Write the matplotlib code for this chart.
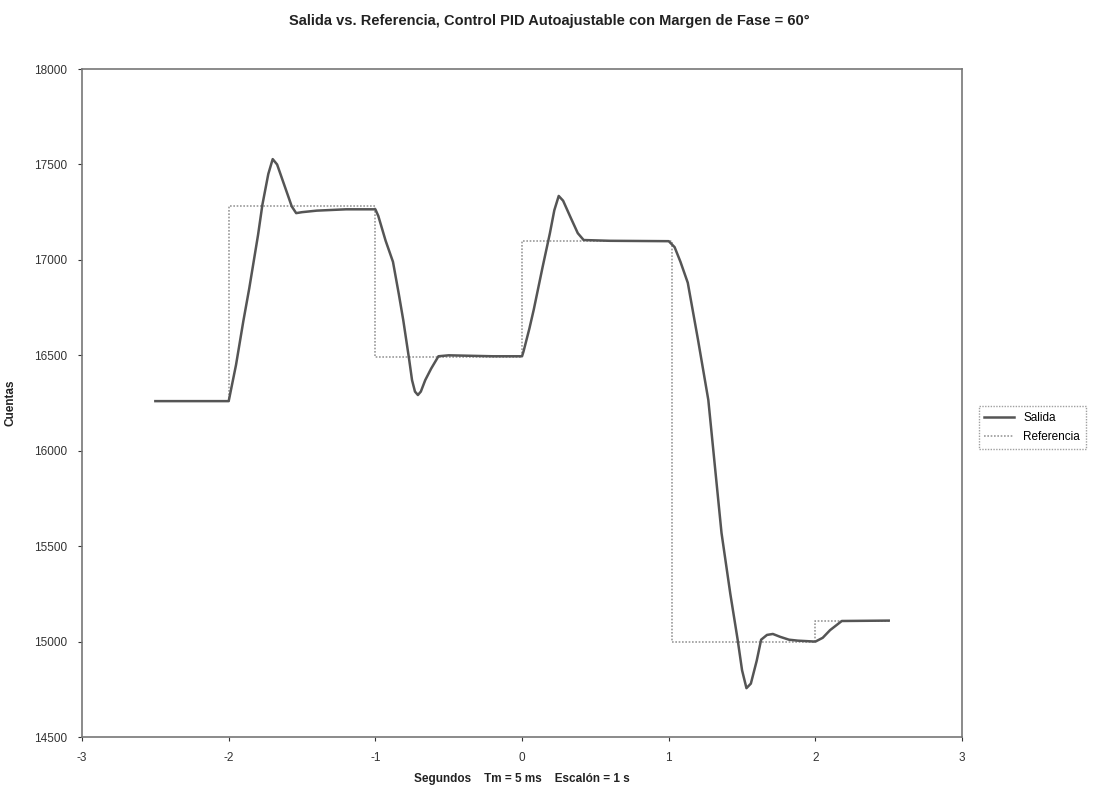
# Salida vs. Referencia - PID autoajustable, margen de fase 60 grados
import matplotlib.pyplot as plt

# Referencia (escalones)
t_ref = [-2.5, -2.0, -1.0, 0.0, 1.02, 2.0, 2.5]
ref = [16260, 17280, 16490, 17100, 15000, 15110, 15110]

# Salida
t_sal = [-2.5, -2.0, -1.95, -1.90, -1.86, -1.80, -1.77, -1.73, -1.70, -1.67,
         -1.62, -1.57, -1.54, -1.50, -1.40, -1.20, -1.00, -0.98, -0.93, -0.88,
         -0.84, -0.81, -0.77, -0.75, -0.73, -0.71, -0.69, -0.66, -0.62, -0.57,
         -0.50, -0.20, 0.00, 0.01, 0.05, 0.08, 0.14, 0.19, 0.22, 0.25,
         0.28, 0.33, 0.38, 0.42, 0.60, 1.00, 1.04, 1.08, 1.13, 1.20,
         1.27, 1.36, 1.42, 1.47, 1.50, 1.53, 1.56, 1.60, 1.63, 1.67,
         1.71, 1.76, 1.82, 1.88, 2.00, 2.05, 2.10, 2.18, 2.50]
salida = [16260, 16260, 16450, 16680, 16850, 17130, 17290, 17450, 17528, 17500,
          17390, 17280, 17245, 17250, 17258, 17265, 17265, 17230, 17100, 16990,
          16820, 16685, 16480, 16370, 16310, 16292, 16310, 16370, 16430, 16495,
          16500, 16495, 16495, 16520, 16640, 16740, 16962, 17140, 17260, 17335,
          17310, 17224, 17140, 17104, 17100, 17098, 17067, 16990, 16880, 16580,
          16266, 15569, 15250, 15010, 14850, 14756, 14780, 14900, 15010, 15035,
          15040, 15025, 15010, 15005, 15000, 15020, 15060, 15108, 15110]

plt.rcParams['font.family'] = ['Liberation Sans', 'DejaVu Sans']
plt.rcParams['axes.unicode_minus'] = False

fig = plt.figure(figsize=[10.98, 7.98], dpi=100)
ax = fig.add_axes([0.0747, 0.0764, 0.8015, 0.8371])

ax.plot(t_ref, ref, drawstyle='steps-post', color='#9a9a9a', lw=1.2,
        ls=(0, (1, 1)), label='Referencia', zorder=2)
ax.plot(t_sal, salida, color='#555555', lw=1.8, label='Salida', zorder=3)

ax.set_xlim(-3, 3)
ax.set_ylim(14500, 18000)
ax.set_xticks(range(-3, 4))
ax.set_yticks(range(14500, 18001, 500))
ax.tick_params(labelsize=8.5, colors='#333333', length=3, direction='out', pad=8)

for s in ax.spines.values():
    s.set_color('#777777')
    s.set_linestyle((0, (1, 1)))
    s.set_linewidth(1.2)

fig.text(0.5, 0.982, 'Salida vs. Referencia, Control PID Autoajustable con Margen de Fase = 60°',
         ha='center', va='top', fontsize=10.5, fontweight='bold', color='#222222')
ax.set_xlabel('Segundos    Tm = 5 ms    Escalón = 1 s', fontsize=8.5,
              fontweight='bold', color='#222222', labelpad=6)
ax.set_ylabel('Cuentas', fontsize=8.5, fontweight='bold', color='#222222', labelpad=12)

h, l = ax.get_legend_handles_labels()
leg = ax.legend(h[::-1], l[::-1], loc='center left', bbox_to_anchor=(1.012, 0.463),
                fontsize=8.5, frameon=True, fancybox=False, handlelength=2.5,
                borderpad=0.5, labelspacing=0.6)
leg.get_frame().set_edgecolor('#888888')
leg.get_frame().set_linestyle((0, (1, 1)))
leg.get_frame().set_linewidth(1.0)

plt.savefig('out.png', dpi=100)
